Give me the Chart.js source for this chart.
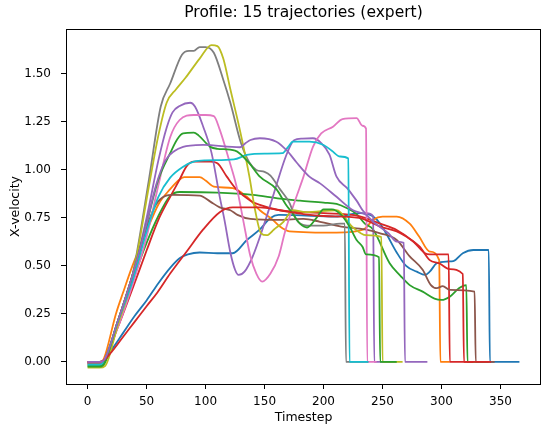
<!DOCTYPE html>
<html>
<head>
<meta charset="utf-8">
<script src="https://cdn.jsdelivr.net/npm/chart.js@4.4.1/dist/chart.umd.min.js"></script>
<style>
  html, body { margin: 0; padding: 0; background: #fff; }
  #wrap { width: 542px; height: 427px; }
</style>
</head>
<body>
<div id="wrap"><canvas id="grafica" width="542" height="427"></canvas></div>
<script>
//------------- datos: [timestep, x-velocity] por trayectoria -------------//
const tray0 = [[0,-0.005],[10,-0.005],[14,0.01],[20,0.06],[30,0.15],[40,0.24],[50,0.32],[60,0.41],[70,0.49],[78,0.54],[85,0.56],[95,0.57],[110,0.566],[123,0.566],[135,0.635],[146,0.69],[155,0.75],[162,0.766],[175,0.765],[210,0.757],[231,0.775],[242,0.757],[248,0.72],[253,0.67],[262,0.57],[270,0.5],[279,0.47],[286,0.453],[290,0.47],[296,0.514],[305,0.523],[310,0.525],[318,0.566],[327,0.583],[340,0.583],[341,0],[366,0]];
const tray1 = [[0,-0.01],[10,-0.01],[14,0.02],[24,0.25],[30,0.36],[38,0.5],[50,0.68],[60,0.82],[70,0.9],[78,0.95],[82,0.962],[95,0.962],[100,0.945],[107,0.913],[123,0.905],[135,0.86],[146,0.79],[157,0.74],[163,0.705],[171,0.68],[211,0.673],[234,0.69],[242,0.74],[250,0.757],[262,0.757],[273,0.72],[281,0.653],[290,0.575],[298,0.53],[299,0],[307,0]];
const tray2 = [[0,-0.02],[10,-0.02],[14,-0.01],[25,0.18],[38,0.42],[50,0.62],[60,0.76],[70,0.865],[78,0.885],[110,0.882],[140,0.87],[163,0.85],[180,0.84],[200,0.83],[211,0.823],[220,0.8],[228,0.77],[235,0.72],[242,0.69],[256,0.514],[265,0.45],[273,0.4],[284,0.366],[294,0.33],[300,0.323],[307,0.34],[315,0.385],[321,0.4],[322,0],[340,0]];
const tray3 = [[0,0],[10,0],[14,0.01],[25,0.17],[38,0.38],[50,0.58],[60,0.74],[70,0.86],[78,0.95],[84,1.02],[90,1.043],[104,1.043],[110,1.035],[118,0.965],[126,0.9],[138,0.84],[146,0.818],[163,0.79],[183,0.78],[200,0.775],[230,0.76],[248,0.72],[262,0.687],[276,0.627],[286,0.566],[290,0.56],[306,0.56],[307,0],[327,0]];
const tray4 = [[0,0],[10,0],[14,0.01],[25,0.2],[38,0.45],[50,0.75],[60,1.05],[67,1.22],[72,1.3],[78,1.333],[87,1.35],[91,1.33],[98,1.225],[105,1.09],[112,0.86],[116,0.74],[121,0.57],[125,0.48],[128,0.453],[133,0.47],[140,0.55],[149,0.705],[155,0.82],[160,0.92],[168,1.07],[175,1.155],[182,1.163],[191,1.165],[198,1.14],[205,1.08],[211,0.965],[220,0.905],[228,0.84],[236,0.775],[242,0.76],[243,0],[262,0]];
const tray5 = [[0,-0.005],[10,-0.005],[14,0.01],[25,0.2],[38,0.45],[50,0.7],[58,0.82],[66,0.865],[72,0.87],[95,0.866],[104,0.835],[112,0.805],[121,0.79],[127,0.766],[138,0.745],[163,0.74],[183,0.745],[197,0.73],[215,0.705],[235,0.69],[248,0.67],[262,0.635],[273,0.55],[284,0.48],[291,0.4],[296,0.384],[301,0.395],[307,0.375],[328,0.366],[329,0],[345,0]];
const tray6 = [[0,-0.005],[10,-0.005],[14,0.01],[25,0.17],[38,0.4],[50,0.65],[60,0.92],[70,1.17],[78,1.26],[90,1.286],[100,1.286],[107,1.28],[112,1.21],[120,1.05],[126,0.92],[130,0.8],[134,0.67],[138,0.55],[143,0.46],[148,0.418],[155,0.46],[162,0.55],[167,0.67],[172,0.77],[177,0.86],[183,0.965],[191,1.12],[198,1.19],[208,1.225],[216,1.265],[228,1.27],[233,1.23],[236,1.215],[237,0],[245,0]];
const tray7 = [[0,-0.01],[10,-0.01],[14,0],[25,0.2],[38,0.45],[52,0.95],[62,1.33],[70,1.45],[80,1.6],[86,1.62],[90,1.62],[95,1.64],[100,1.64],[107,1.61],[115,1.47],[121,1.35],[130,1.14],[137,1.04],[143,1.0],[150,0.99],[155,0.97],[163,0.9],[171,0.83],[177,0.74],[186,0.71],[200,0.71],[214,0.72],[218,0.72],[219,0],[238,0]];
const tray8 = [[0,-0.03],[10,-0.03],[15,-0.02],[25,0.18],[38,0.44],[53,0.95],[60,1.18],[67,1.35],[75,1.42],[83,1.48],[95,1.58],[105,1.65],[110,1.645],[115,1.58],[121,1.42],[129,1.21],[137,0.97],[142,0.79],[147,0.67],[152,0.66],[158,0.69],[166,0.73],[174,0.79],[185,0.78],[211,0.79],[225,0.7],[236,0.66],[249,0.65],[250,0],[267,0]];
const tray9 = [[0,-0.015],[10,-0.015],[14,0],[25,0.2],[38,0.42],[50,0.68],[60,0.86],[70,0.96],[81,1.017],[90,1.043],[100,1.05],[124,1.055],[135,1.078],[150,1.085],[165,1.087],[170,1.12],[174,1.147],[188,1.147],[200,1.13],[207,1.1],[214,1.07],[221,1.06],[222,0],[238,0]];
const tray12 = [[0,-0.025],[10,-0.025],[14,-0.01],[25,0.2],[38,0.45],[50,0.72],[60,0.95],[70,1.087],[76,1.16],[81,1.19],[90,1.194],[94,1.18],[104,1.12],[110,1.11],[125,1.1],[137,1.035],[146,0.965],[160,0.9],[168,0.82],[173,0.78],[180,0.72],[186,0.7],[194,0.75],[200,0.795],[207,0.795],[215,0.766],[222,0.705],[228,0.635],[233,0.6],[236,0.56],[247,0.545],[248,0],[262,0]];
const tray13 = [[0,0],[10,0],[14,0.01],[20,0.05],[30,0.13],[40,0.21],[50,0.29],[59,0.36],[70,0.46],[84,0.575],[98,0.69],[112,0.78],[123,0.805],[146,0.805],[163,0.79],[183,0.77],[200,0.76],[230,0.75],[248,0.705],[262,0.68],[270,0.653],[281.5,0.6],[290,0.53],[298,0.514],[307,0.483],[318,0.458],[319,0],[342,0]];
const tray14 = [[0,0],[10,0],[14,0.01],[25,0.2],[38,0.45],[50,0.72],[58,0.92],[66,1.05],[74,1.1],[81,1.12],[87,1.127],[98,1.13],[129,1.118],[134,1.14],[138,1.156],[146,1.165],[160,1.147],[169,1.1],[177,1.04],[188,0.965],[197,0.93],[211,0.86],[225,0.79],[236,0.766],[242,0.73],[255,0.67],[262,0.627],[268,0.62],[269,0],[288,0]];

const ticksX = [0, 50, 100, 150, 200, 250, 300, 350];
const ticksY = [0, 0.25, 0.5, 0.75, 1.0, 1.25, 1.5];
const colores = ['#1f77b4','#ff7f0e','#2ca02c','#d62728','#9467bd','#8c564b','#e377c2','#7f7f7f','#bcbd22','#17becf'];
//-----------------------------------------------------------------------//

// indice de la trayectoria (define color y orden de dibujo)
const trayectorias = [
    [0, tray0], [1, tray1], [2, tray2], [3, tray3], [4, tray4],
    [5, tray5], [6, tray6], [7, tray7], [8, tray8], [9, tray9],
    [12, tray12], [13, tray13], [14, tray14]
];

const fuente = "'DejaVu Sans', sans-serif";

// marco completo del area de graficado y titulo centrado sobre ella
const marco = {
    id: 'marco',
    afterDatasetsDraw(chart) {
        const a = chart.chartArea;
        const ctx = chart.ctx;
        ctx.save();
        ctx.strokeStyle = '#000';
        ctx.lineWidth = 1;
        ctx.strokeRect(Math.round(a.left) + 0.5, Math.round(a.top) + 0.5,
            Math.round(a.right - a.left) - 1, Math.round(a.bottom - a.top));
        ctx.restore();
    },
    afterDraw(chart) {
        const a = chart.chartArea;
        const ctx = chart.ctx;
        ctx.save();
        ctx.fillStyle = '#000';
        ctx.font = '15.5px ' + fuente;
        ctx.textAlign = 'center';
        ctx.textBaseline = 'middle';
        ctx.fillText('Profile: 15 trajectories (expert)', (a.left + a.right) / 2, 13);
        ctx.restore();
    }
};

function crearGrafica() {
    const datasets = trayectorias.map(function (t) {
        const idx = t[0];
        return {
            label: 'traj ' + idx,
            data: t[1],
            borderColor: colores[idx % 10],
            borderWidth: 1.8,
            pointRadius: 0,
            fill: false,
            cubicInterpolationMode: 'monotone',
            order: -idx
        };
    });

    const ctx = document.getElementById('grafica').getContext('2d');
    new Chart(ctx, {
        type: 'line',
        data: { datasets: datasets },
        options: {
            responsive: false,
            animation: false,
            devicePixelRatio: 1,
            layout: { padding: { top: 29, right: 1, left: 0, bottom: 0 } },
            plugins: {
                legend: { display: false },
                tooltip: { enabled: false },
                title: { display: false }
            },
            scales: {
                x: {
                    type: 'linear',
                    min: -18.3,
                    max: 384.3,
                    afterBuildTicks: function (s) { s.ticks = ticksX.map(v => ({ value: v })); },
                    afterFit: function (s) { s.height = 43; },
                    grid: { drawOnChartArea: false, drawTicks: true, tickLength: 5, tickColor: '#000' },
                    border: { display: false },
                    ticks: { color: '#000', font: { family: fuente, size: 12 }, padding: 6, maxRotation: 0 },
                    title: { display: true, text: 'Timestep', color: '#000', font: { family: fuente, size: 12.5 }, padding: { top: 0, bottom: 2 } }
                },
                y: {
                    type: 'linear',
                    min: -0.115,
                    max: 1.734,
                    afterBuildTicks: function (s) { s.ticks = ticksY.map(v => ({ value: v })); },
                    afterFit: function (s) { s.width = 66; },
                    grid: { drawOnChartArea: false, drawTicks: true, tickLength: 5, tickColor: '#000' },
                    border: { display: false },
                    ticks: { color: '#000', font: { family: fuente, size: 12 }, padding: 10, callback: v => v.toFixed(2) },
                    title: { display: true, text: 'X-velocity', color: '#000', font: { family: fuente, size: 12.5 }, padding: { top: 8, bottom: 0 } }
                }
            }
        },
        plugins: [marco]
    });
}

window.onload = function () {
    crearGrafica();
};
</script>
</body>
</html>
